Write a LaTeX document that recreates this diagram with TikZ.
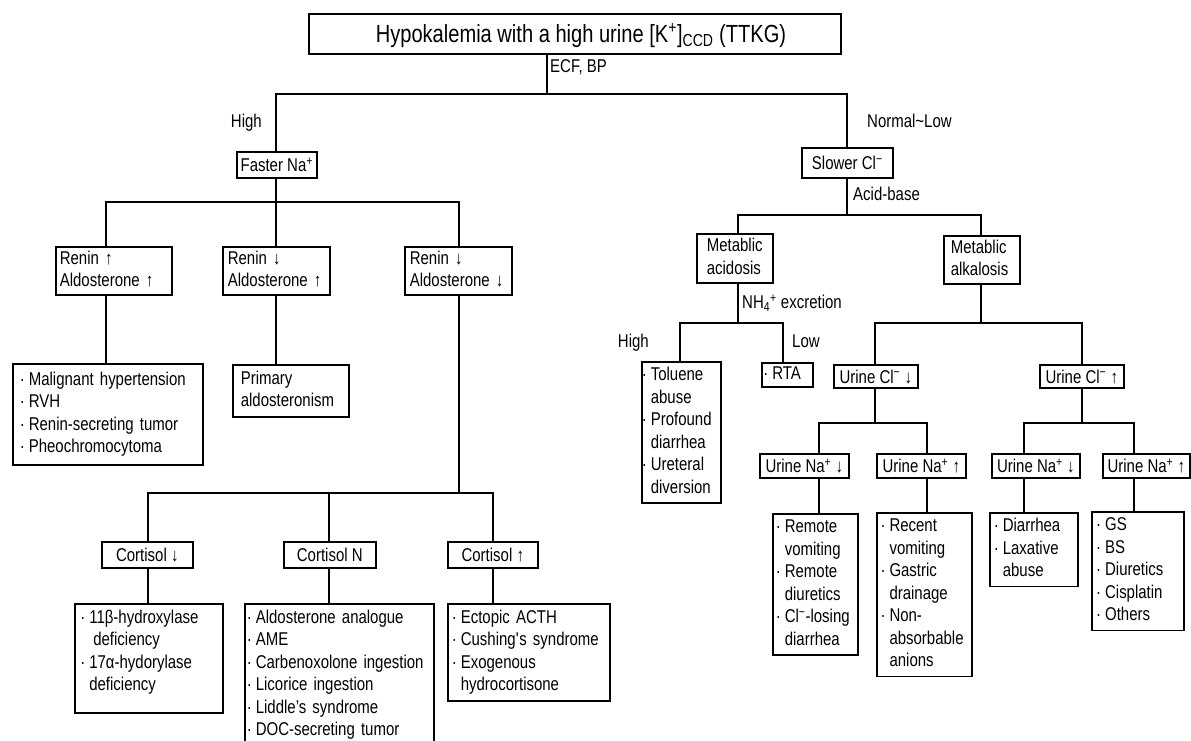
\documentclass[tikz,border=0pt]{standalone}
\usepackage{fontspec}
\setmainfont[FakeStretch=0.81]{Liberation Sans}
\newcommand\nf{\fontsize{18.5}{22.5}\selectfont}
\newcommand\tf{\fontsize{24.8}{30}\selectfont}
\newcommand\bulx{\makebox[9pt][l]{·}}
\newcommand\indx{\hspace*{9pt}}
\newcommand\xdep[1]{\rule[-#1]{0pt}{#1}}
\newcommand\supp{\textsuperscript{+}}
\newcommand\supm{\textsuperscript{−}}
\newcommand\cstrut{\rule[-2.5pt]{0pt}{18.5pt}}
\begin{document}
\begin{tikzpicture}[x=1pt,y=-1pt,
  ln/.style={line width=1.6pt},
  bx/.style={draw, line width=1.6pt, font=\nf, anchor=north west, inner ysep=0pt},
  cb/.style={bx, align=center, inner xsep=0pt, execute at begin node=\cstrut},
  lb/.style={bx, align=left, inner ysep=3pt,
    execute at begin node={\noindent\hyphenpenalty=10000\exhyphenpenalty=10000\strut},
    execute at end node=\strut},
  lab/.style={font=\nf, inner sep=0pt, execute at begin node=\strut}]
\fill[white] (0,0) rectangle (1191,740);
\useasboundingbox (0,0) rectangle (1191,740);

% ---------- top ----------
\node[bx, font=\tf, inner xsep=67pt, minimum height=40pt] (top) at (308,13)
  {\rule[-6pt]{0pt}{30pt}\makebox[398pt][l]{Hypokalemia with a high urine [K\supp]\textsubscript{CCD} (TTKG)}};

\node[lab, anchor=west] (lecf) at (550,68) {ECF, BP};
\node[lab, anchor=east] (lhigh) at (262,123) {High};
\node[lab, anchor=west] (lnorm) at (867,123) {Normal\textasciitilde Low};

\node[cb, minimum width=80pt, minimum height=26pt] (fast) at (236,151) {Faster Na\supp};
\node[cb, minimum width=91pt, minimum height=30pt] (slow) at (801,147) {Slower Cl\supm};

% ---------- left branch ----------
\node[lb, inner ysep=0pt, inner xsep=4pt, text width=108pt, minimum height=48pt] (r1) at (55,246)
  {Renin~↑\\Aldosterone~↑};
\node[lb, inner ysep=0pt, inner xsep=5pt, text width=97pt, minimum height=48pt] (r2) at (222,246)
  {Renin~↓\\Aldosterone~↑};
\node[lb, inner ysep=0pt, inner xsep=5pt, text width=97pt, minimum height=48pt] (r3) at (404,246)
  {Renin~↓\\Aldosterone~↓};

\node[lb, inner ysep=0pt, inner xsep=7pt, text width=176pt, minimum height=101pt] (l1) at (12,363)
  {\bulx Malignant hypertension\\\bulx RVH\\\bulx Renin-secreting tumor\\\bulx Pheochromocytoma};
\node[lb, inner ysep=0pt, inner xsep=8pt, text width=100pt, minimum height=52pt] (prim) at (232,364)
  {Primary\\aldosteronism};

\node[cb, minimum width=91pt, minimum height=26pt] (c1) at (101,541) {Cortisol~↓};
\node[cb, minimum width=92pt, minimum height=26pt] (cN) at (283,541) {Cortisol N};
\node[cb, minimum width=90pt, minimum height=26pt] (c3) at (447,541) {Cortisol~↑};

\node[lb, inner ysep=3.5pt, inner xsep=5.5pt, text width=137pt] (d1) at (74,603)
  {\bulx 11β-hydroxylase\\\indx\hspace*{4pt}deficiency\\\bulx 17α-hydorylase\\\indx deficiency\xdep{19pt}};
\node[lb, inner ysep=3.5pt, inner xsep=2pt, text width=185pt] (ald) at (244,603)
  {\bulx Aldosterone analogue\\\bulx AME\\\bulx Carbenoxolone ingestion\\\bulx Licorice ingestion\\\bulx Liddle’s syndrome\\\bulx DOC-secreting tumor\xdep{12pt}};
\node[lb, inner ysep=3.5pt, inner xsep=4pt, text width=154pt] (ect) at (447,603)
  {\bulx Ectopic ACTH\\\bulx Cushing\textquotesingle s syndrome\\\bulx Exogenous\\\indx hydrocortisone};

% ---------- right branch ----------
\node[lab, anchor=west] (lacid) at (853,196) {Acid-base};
\node[lb, inner ysep=0pt, inner xsep=10pt, text width=56pt, minimum height=49pt] (acid) at (696,233)
  {Metablic\\acidosis};
\node[lb, inner ysep=0pt, inner xsep=7pt, text width=62pt, minimum height=48pt] (alk) at (943,235)
  {Metablic\\alkalosis};

\node[lab, anchor=west] (lnh) at (742,304) {NH\textsubscript{4}\supp{} excretion};
\node[lab, anchor=east] (lhigh2) at (649,343) {High};
\node[lab, anchor=west] (llow) at (792,343) {Low};

\node[lb, inner ysep=3pt, inner xsep=0pt, text width=79pt] (tol) at (641,361)
  {\bulx Toluene\\\indx abuse\\\bulx Profound\\\indx diarrhea\\\bulx Ureteral\\\indx diversion};
\node[lb, inner ysep=0pt, inner xsep=1.5pt, text width=48pt, minimum height=24pt] (rta) at (761,362)
  {\bulx RTA};

\node[cb, minimum width=84pt, minimum height=23pt] (clD) at (833,364) {Urine Cl\supm~↓};
\node[cb, minimum width=84pt, minimum height=23pt] (clU) at (1039,364) {Urine Cl\supm~↑};

\node[cb, minimum width=89pt, minimum height=24pt] (nD1) at (759,453) {Urine Na\supp~↓};
\node[cb, minimum width=89pt, minimum height=24pt] (nU1) at (876,453) {Urine Na\supp~↑};
\node[cb, minimum width=88pt, minimum height=24pt] (nD2) at (991,453) {Urine Na\supp~↓};
\node[cb, minimum width=87pt, minimum height=24pt] (nU2) at (1102,453) {Urine Na\supp~↑};

\node[lb, inner ysep=3pt, inner xsep=3pt, text width=79pt] (rem) at (772,513)
  {\bulx Remote\\\indx vomiting\\\bulx Remote\\\indx diuretics\\\bulx Cl\supm-losing\\\indx diarrhea};
\node[lb, inner ysep=3pt, inner xsep=3.7pt, text width=87.6pt] (rec) at (876,512)
  {\bulx Recent\\\indx vomiting\\\bulx Gastric\\\indx drainage\\\bulx Non-\\\indx absorbable\\\indx anions};
\node[lb, inner ysep=3pt, inner xsep=4pt, text width=80pt] (dia) at (989,512)
  {\bulx Diarrhea\\\bulx Laxative\\\indx abuse};
\node[lb, inner ysep=3pt, inner xsep=4.3pt, text width=83.4pt] (gs) at (1091,511)
  {\bulx GS\\\bulx BS\\\bulx Diuretics\\\bulx Cisplatin\\\bulx Others};

% ---------- connectors ----------
\coordinate (t0) at (547,94); \coordinate (tL) at (276,94); \coordinate (tR) at (847,94);
\draw[ln] (top.south -| t0) -- (t0);
\draw[ln] (fast.north -| tL) -- (tL) -- (tR) -- (tR |- slow.north);

\coordinate (f0) at (276,202); \coordinate (fA) at (106,202); \coordinate (fC) at (459,202);
\draw[ln] (fast.south -| f0) -- (f0 |- r2.north);
\draw[ln] (r1.north -| fA) -- (fA) -- (fC) -- (fC |- r3.north);
\draw[ln] (r1.south -| fA) -- (fA |- l1.north);
\draw[ln] (r2.south -| f0) -- (f0 |- prim.north);

\coordinate (g0) at (459,493); \coordinate (gA) at (148,493);
\coordinate (gB) at (329,493); \coordinate (gC) at (493,493);
\draw[ln] (r3.south -| g0) -- (g0);
\draw[ln] (c1.north -| gA) -- (gA) -- (gC) -- (gC |- c3.north);
\draw[ln] (gB) -- (gB |- cN.north);
\draw[ln] (c1.south -| gA) -- (gA |- d1.north);
\draw[ln] (cN.south -| gB) -- (gB |- ald.north);
\draw[ln] (c3.south -| gC) -- (gC |- ect.north);

\coordinate (s0) at (847,215); \coordinate (sA) at (738,215); \coordinate (sB) at (981,215);
\draw[ln] (slow.south -| s0) -- (s0);
\draw[ln] (acid.north -| sA) -- (sA) -- (sB) -- (sB |- alk.north);

\coordinate (a0) at (738,323); \coordinate (aA) at (680,323); \coordinate (aB) at (783,323);
\draw[ln] (acid.south -| a0) -- (a0);
\draw[ln] (tol.north -| aA) -- (aA) -- (aB) -- (aB |- rta.north);

\coordinate (k0) at (981,323); \coordinate (kA) at (875,323); \coordinate (kB) at (1082,323);
\draw[ln] (alk.south -| k0) -- (k0);
\draw[ln] (clD.north -| kA) -- (kA) -- (kB) -- (kB |- clU.north);

\coordinate (m0) at (875,423); \coordinate (mA) at (819,423); \coordinate (mB) at (927,423);
\draw[ln] (clD.south -| m0) -- (m0);
\draw[ln] (nD1.north -| mA) -- (mA) -- (mB) -- (mB |- nU1.north);

\coordinate (p0) at (1082,423); \coordinate (pA) at (1024,423); \coordinate (pB) at (1134,423);
\draw[ln] (clU.south -| p0) -- (p0);
\draw[ln] (nD2.north -| pA) -- (pA) -- (pB) -- (pB |- nU2.north);

\draw[ln] (nD1.south -| mA) -- (mA |- rem.north);
\draw[ln] (nU1.south -| mB) -- (mB |- rec.north);
\draw[ln] (nD2.south -| pA) -- (pA |- dia.north);
\draw[ln] (nU2.south -| pB) -- (pB |- gs.north);
\end{tikzpicture}
\end{document}
